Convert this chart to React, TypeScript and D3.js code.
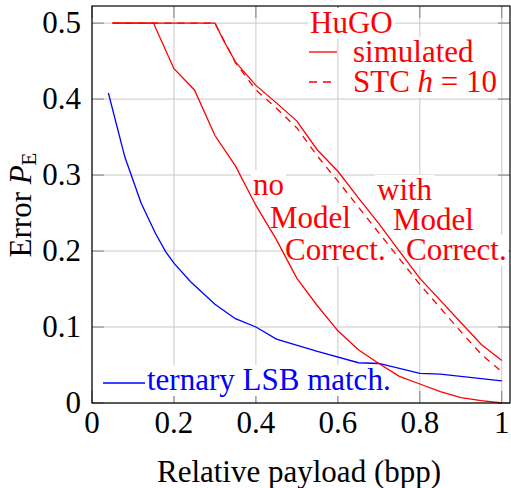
import React, { useEffect, useRef } from 'react';
import * as d3 from 'd3';

const xTicks = [0, 0.2, 0.4, 0.6, 0.8, 1];
const yTicks = [0, 0.1, 0.2, 0.3, 0.4, 0.5];

// ternary LSB matching
const lsbX = [0.04, 0.08, 0.12, 0.155, 0.18, 0.2, 0.24, 0.3, 0.35, 0.4, 0.45, 0.55, 0.65, 0.7, 0.8, 0.85, 1.0];
const lsbY = [0.408, 0.324, 0.263, 0.223, 0.199, 0.184, 0.16, 0.13, 0.111, 0.1, 0.084, 0.068, 0.053, 0.052, 0.039, 0.038, 0.029];

// HuGO simulated, no model correction
const noCorrX = [0.05, 0.15, 0.2, 0.25, 0.3, 0.35, 0.4, 0.45, 0.5, 0.55, 0.6, 0.65, 0.7, 0.75, 0.8, 0.85, 0.9, 0.95, 1.0];
const noCorrY = [0.5, 0.5, 0.44, 0.412, 0.352, 0.312, 0.26, 0.215, 0.164, 0.128, 0.095, 0.07, 0.052, 0.035, 0.025, 0.015, 0.007, 0.003, 0.0];

// HuGO simulated, with model correction
const withCorrX = [0.05, 0.3, 0.32, 0.35, 0.4, 0.45, 0.5, 0.55, 0.6, 0.65, 0.7, 0.75, 0.8, 0.85, 0.9, 0.95, 1.0];
const withCorrY = [0.5, 0.5, 0.478, 0.449, 0.418, 0.395, 0.371, 0.333, 0.305, 0.27, 0.236, 0.2, 0.164, 0.135, 0.106, 0.077, 0.056];

// HuGO STC h = 10, with model correction
const stcX = [0.05, 0.3, 0.35, 0.4, 0.45, 0.5, 0.55, 0.6, 0.65, 0.7, 0.75, 0.8, 0.85, 0.9, 0.95, 1.0];
const stcY = [0.5, 0.5, 0.448, 0.412, 0.388, 0.362, 0.325, 0.292, 0.258, 0.224, 0.19, 0.156, 0.125, 0.094, 0.064, 0.041];

const FONT = '"Liberation Serif", "Times New Roman", serif';
const FS = 31;

type Part = { t: string; italic?: boolean };

const App = () => {
  const svgRef = useRef<SVGSVGElement>(null);

  useEffect(() => {
    const svg = d3.select(svgRef.current);
    svg.selectAll('*').remove();

    const x = d3.scaleLinear().domain([0, 1.02]).range([92, 510]);
    const y = d3.scaleLinear().domain([0, 0.5225]).range([403, 6]);
    const [x0, x1] = x.range();
    const [y0, y1] = y.range();

    // grid
    const grid = svg.append('g').attr('stroke', '#c8c8c8').attr('stroke-width', 1);
    grid.selectAll('.gx').data(xTicks).join('line')
      .attr('x1', d => x(d)).attr('x2', d => x(d)).attr('y1', y0).attr('y2', y1);
    grid.selectAll('.gy').data(yTicks).join('line')
      .attr('y1', d => y(d)).attr('y2', d => y(d)).attr('x1', x0).attr('x2', x1);

    // ticks (inside, all four sides)
    const tl = 12;
    const ticks = svg.append('g').attr('stroke', '#7f7f7f').attr('stroke-width', 1);
    xTicks.forEach(d => {
      ticks.append('line').attr('x1', x(d)).attr('x2', x(d)).attr('y1', y0).attr('y2', y0 - tl);
      ticks.append('line').attr('x1', x(d)).attr('x2', x(d)).attr('y1', y1).attr('y2', y1 + tl);
    });
    yTicks.forEach(d => {
      ticks.append('line').attr('y1', y(d)).attr('y2', y(d)).attr('x1', x0).attr('x2', x0 + tl);
      ticks.append('line').attr('y1', y(d)).attr('y2', y(d)).attr('x1', x1).attr('x2', x1 - tl);
    });

    // text with white box behind
    const label = (px: number, py: number, parts: Part[], color: string) => {
      const g = svg.append('g');
      const txt = g.append('text')
        .attr('x', px).attr('y', py)
        .attr('fill', color)
        .style('font-family', FONT)
        .style('font-size', FS + 'px');
      parts.forEach(p => {
        const s = txt.append('tspan').text(p.t);
        if (p.italic) s.style('font-style', 'italic');
      });
      const b = (txt.node() as SVGTextElement).getBBox();
      g.insert('rect', 'text')
        .attr('x', b.x - 2).attr('y', b.y + 3)
        .attr('width', b.width + 4).attr('height', b.height - 4)
        .attr('fill', 'white');
      return g;
    };

    label(253, 195, [{ t: 'no' }], 'red');
    label(270, 228, [{ t: 'Model' }], 'red');
    label(285, 260, [{ t: 'Correct.' }], 'red');
    label(377, 200, [{ t: 'with' }], 'red');
    label(393, 230, [{ t: 'Model' }], 'red');
    label(406, 260, [{ t: 'Correct.' }], 'red');

    // legend
    label(310, 33, [{ t: 'HuGO' }], 'red');
    label(353, 62, [{ t: 'simulated' }], 'red');
    label(353, 92, [{ t: 'STC ' }, { t: 'h', italic: true }, { t: ' = 10' }], 'red');
    svg.append('line').attr('x1', 309).attr('x2', 337).attr('y1', 52).attr('y2', 52)
      .attr('stroke', 'red').attr('stroke-width', 1.3);
    svg.append('line').attr('x1', 309).attr('x2', 337).attr('y1', 82).attr('y2', 82)
      .attr('stroke', 'red').attr('stroke-width', 1.3).attr('stroke-dasharray', '8,6');
    label(147, 390, [{ t: 'ternary LSB match.' }], 'blue');
    svg.append('line').attr('x1', 103).attr('x2', 145).attr('y1', 383).attr('y2', 383)
      .attr('stroke', 'blue').attr('stroke-width', 1.3);

    // curves
    const line = d3.line<[number, number]>().x(d => x(d[0])).y(d => y(d[1]));
    const series = [
      { xs: lsbX, ys: lsbY, color: 'blue', dash: null },
      { xs: noCorrX, ys: noCorrY, color: 'red', dash: null },
      { xs: withCorrX, ys: withCorrY, color: 'red', dash: null },
      { xs: stcX, ys: stcY, color: 'red', dash: '7,6' },
    ];
    series.forEach(s => {
      svg.append('path')
        .datum(s.xs.map((v, i) => [v, s.ys[i]] as [number, number]))
        .attr('fill', 'none')
        .attr('stroke', s.color)
        .attr('stroke-width', 1.3)
        .attr('stroke-dasharray', s.dash)
        .attr('d', line);
    });

    // frame
    svg.append('rect')
      .attr('x', x0).attr('y', y1).attr('width', x1 - x0).attr('height', y0 - y1)
      .attr('fill', 'none').attr('stroke', 'black').attr('stroke-width', 1.2);

    // tick labels
    svg.append('g').selectAll('text').data(xTicks).join('text')
      .attr('x', d => x(d)).attr('y', 433)
      .attr('text-anchor', 'middle')
      .style('font-family', FONT).style('font-size', FS + 'px')
      .text(d => d3.format('~g')(d));
    svg.append('g').selectAll('text').data(yTicks).join('text')
      .attr('x', 81).attr('y', d => y(d) + 10)
      .attr('text-anchor', 'end')
      .style('font-family', FONT).style('font-size', FS + 'px')
      .text(d => d3.format('~g')(d));

    // axis labels
    svg.append('text')
      .attr('x', 299).attr('y', 482)
      .attr('text-anchor', 'middle')
      .style('font-family', FONT).style('font-size', FS + 'px')
      .text('Relative payload (bpp)');
    const yl = svg.append('text')
      .attr('transform', 'translate(31,205) rotate(-90)')
      .attr('text-anchor', 'middle')
      .style('font-family', FONT).style('font-size', FS + 'px');
    yl.append('tspan').text('Error ');
    yl.append('tspan').style('font-style', 'italic').text('P');
    yl.append('tspan').style('font-size', '21px').attr('dy', 5).text('E');
  }, []);

  return (
    <svg ref={svgRef} width={511} height={488}
      style={{ position: 'absolute', left: 0, top: 0, background: 'white' }} />
  );
};

export default App;
